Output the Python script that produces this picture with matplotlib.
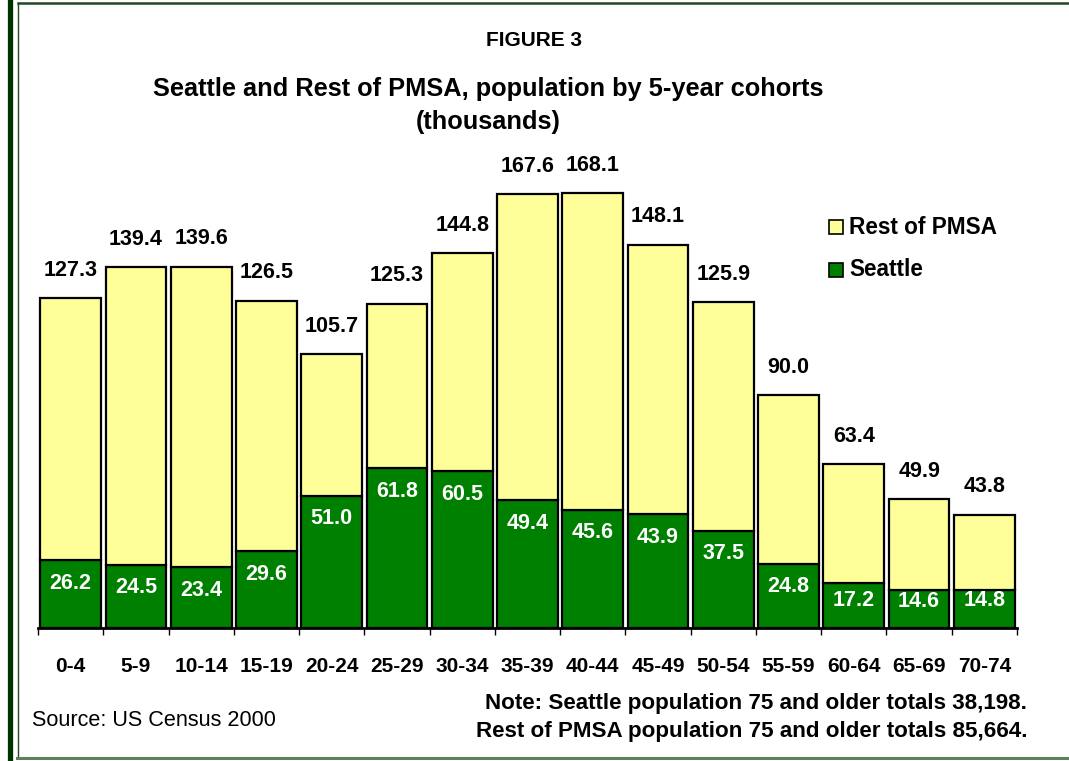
import matplotlib
matplotlib.use("Agg")
import matplotlib.pyplot as plt
from matplotlib.patches import Rectangle
from matplotlib.lines import Line2D
import numpy as np

plt.rcParams['font.family'] = ['Liberation Sans', 'DejaVu Sans']

categories = ["0-4", "5-9", "10-14", "15-19", "20-24", "25-29", "30-34", "35-39",
              "40-44", "45-49", "50-54", "55-59", "60-64", "65-69", "70-74"]
totals = [127.3, 139.4, 139.6, 126.5, 105.7, 125.3, 144.8, 167.6,
          168.1, 148.1, 125.9, 90.0, 63.4, 49.9, 43.8]
seattle = [26.2, 24.5, 23.4, 29.6, 51.0, 61.8, 60.5, 49.4,
           45.6, 43.9, 37.5, 24.8, 17.2, 14.6, 14.8]
rest = [round(t - s, 1) for t, s in zip(totals, seattle)]

title_fig = "FIGURE 3"
title_main = "Seattle and Rest of PMSA, population by 5-year cohorts\n(thousands)"
source = "Source: US Census 2000"
note1 = "Note: Seattle population 75 and older totals 38,198."
note2 = "Rest of PMSA population 75 and older totals 85,664."

W, H = 1069, 761
fig = plt.figure(figsize=(W / 100, H / 100), dpi=100)
fig.patch.set_facecolor("white")

def fx(px):
    return px / W

def fy(py):
    return 1 - py / H

ax_left, ax_right, ax_base, ax_top = 38, 1017, 628, 162
ymax = 180
ax = fig.add_axes([fx(ax_left), fy(ax_base), fx(ax_right - ax_left), (ax_base - ax_top) / H])
ax.set_xlim(-0.5, len(categories) - 0.5)
ax.set_ylim(0, ymax)
ax.patch.set_alpha(0)

green = "#008000"
yellow = "#FFFF99"
x = np.arange(len(categories))
bw = 0.93
ax.bar(x, seattle, width=bw, color=green, edgecolor="black", linewidth=1.6, zorder=2)
ax.bar(x, rest, width=bw, bottom=seattle, color=yellow, edgecolor="black", linewidth=1.6, zorder=2)

px_per_unit = (ax_base - ax_top) / ymax
for i in range(len(categories)):
    ax.annotate(f"{totals[i]:.1f}", (x[i], totals[i]), xytext=(0, 20), textcoords="offset points",
                ha="center", va="center", fontsize=15.5, fontweight="bold", color="black")
    hpx = seattle[i] * px_per_unit
    off = min(23, max(11, hpx - 28))
    ax.annotate(f"{seattle[i]:.1f}", (x[i], seattle[i]), xytext=(0, -off * 0.72), textcoords="offset points",
                ha="center", va="center", fontsize=15.5, fontweight="bold", color="white")

for s in ["top", "left", "right"]:
    ax.spines[s].set_visible(False)
ax.spines["bottom"].set_linewidth(2)
ax.spines["bottom"].set_color("black")
ax.set_yticks([])
ax.set_xticks(np.arange(-0.5, len(categories), 1.0))
ax.set_xticklabels([])
ax.tick_params(axis="x", which="major", length=5, width=1, direction="out", color="black")
ax.set_xticks(x, minor=True)
ax.set_xticklabels(categories, minor=True, fontsize=15, fontweight="bold")
ax.tick_params(axis="x", which="minor", length=0, pad=21)

# titles
fig.text(fx(534), fy(40), title_fig, ha="center", va="center", fontsize=15, fontweight="bold")
fig.text(fx(488), fy(105.5), title_main, ha="center", va="center", fontsize=18.3, fontweight="bold",
         linespacing=1.5, multialignment="center")

# legend
for yc, col, lab in [(227, yellow, "Rest of PMSA"), (270, green, "Seattle")]:
    fig.patches.append(Rectangle((fx(829), fy(yc + 7)), fx(14), 14 / H, facecolor=col,
                                 edgecolor="black", linewidth=1.2, transform=fig.transFigure))
    fig.text(fx(849), fy(yc), lab, ha="left", va="center", fontsize=16.3, fontweight="bold")

# source and notes
fig.text(fx(32), fy(721), source, ha="left", va="center", fontsize=15.6)
fig.text(fx(1027), fy(704), note1, ha="right", va="center", fontsize=16.1, fontweight="bold")
fig.text(fx(1027), fy(732), note2, ha="right", va="center", fontsize=16.1, fontweight="bold")

# frame
fig.add_artist(Line2D([fx(18), 1], [fy(3), fy(3)], color="#1f4a1f", linewidth=1.8, transform=fig.transFigure))
fig.add_artist(Line2D([fx(9.5), fx(9.5)], [0, 1], color="#003300", linewidth=3.8, transform=fig.transFigure))
fig.add_artist(Line2D([fx(17.5), fx(17.5)], [fy(3), fy(758)], color="#1f4a1f", linewidth=1.0, transform=fig.transFigure))
fig.add_artist(Line2D([fx(17), 1], [fy(758), fy(758)], color="#5f7f5f", linewidth=2.2, transform=fig.transFigure))

fig.savefig("out.png", dpi=100, facecolor="white")
